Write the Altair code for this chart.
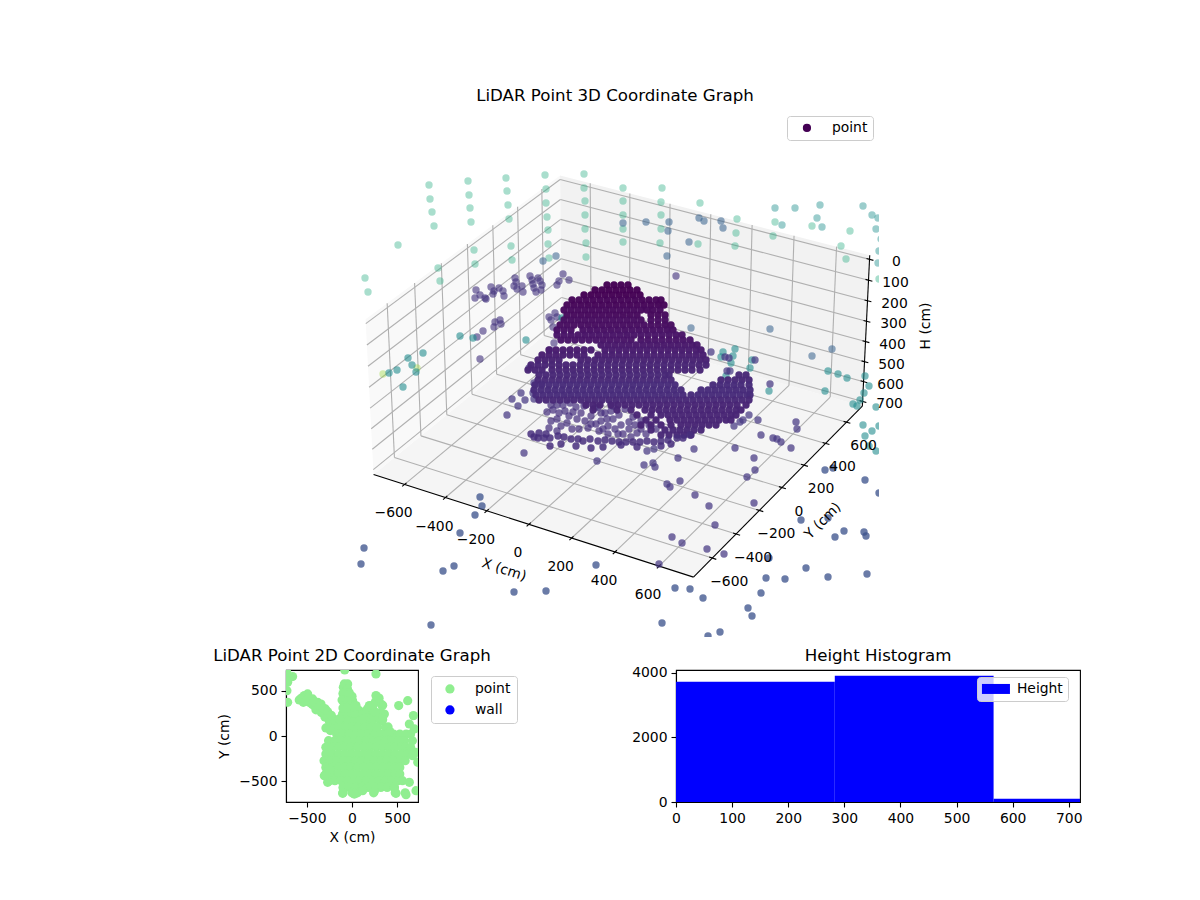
import altair as alt
import numpy as np
import pandas as pd

FONT = 'DejaVu Sans'

# ---- 3D panel: points as they sit in the projected view (page pixels) ----
green_back = [(428,184),(467,180),(505,177),(544,174),(583,173),(429,198),(468,194),(506,190),(545,188),(583,187),
    (431,211),(469,207),(507,204),(545,202),(584,200),(433,225),(470,221),(508,218),(546,216),(584,214),(547,229),(584,228),
    (547,243),(585,242),(548,257),(585,256),(397,244),(473,249),(510,245),(511,259),(474,263),(437,267),(439,280),(364,277),(367,291),
    (622,187),(661,187),(660,201),(660,214),(660,228),(659,242),(622,200),(622,214),(622,228),(622,241),(699,202),(697,243),
    (736,218),(735,232),(734,245),(774,221),(772,235),(811,225),(849,230),(840,245),(845,258),(878,278)]
teal_back = [(774,207),(794,207),(819,204),(816,217),(821,226),(781,224),(862,205),(871,214),(877,217),(875,228),(877,262),(880,238),(878,250)]
blue_back = [(622,222),(645,221),(668,221),(667,230),(698,217),(703,220),(720,220),(722,227),(688,241),(666,255),(555,255),(542,260),(690,327),(769,328),(811,355),(831,348)]
purple_back = [(675,275),(475,289),(474,297),(479,294),(484,297),(485,298),(490,286),(498,287),(492,293),(493,290),(502,290),(503,295),
    (514,277),(515,281),(513,285),(516,288),(521,285),(522,291),(529,275),(531,279),(532,283),(533,287),(535,291),(537,277),(539,280),(541,284),(540,289),
    (562,273),(558,280),(556,284),(568,279),(499,319),(494,321),(500,323),(493,326),(482,330),(476,336),(548,316),(554,312),(550,319),(556,316),(552,326),(553,342),(549,349),(479,358)]
teal_mid = [(472,337),(459,335),(525,339),(422,352),(407,357),(388,372),(396,369),(411,364),(415,371),(402,386),(561,317),
    (722,351),(734,348),(720,356),(732,355),(730,362),(725,375),(751,359),(749,367),(768,390),(824,390),(827,370),(837,373),(846,377),
    (864,375),(868,385),(863,392),(859,399),(852,403),(856,405),(875,406),(862,424),(871,430),(864,435),(878,425),(868,445),(875,450)]
yellow_few = [(382,373),(416,367)]
purple_mid = [(710,351),(724,356),(728,357),(726,370),(729,370),(754,359),(769,383),(795,421),(796,428),(757,419),(748,414),(742,419),(739,421),(733,425),
    (760,434),(772,437),(776,438),(780,441),(790,447),(734,447),(753,457),(754,469),(746,476),(693,448),(677,457),(652,462),(654,466),(643,464),(666,483),(669,486),(679,480),
    (694,494),(708,505),(714,524),(753,502),(671,536),(681,542),(706,548),(723,553),(658,563),(506,414),(523,452),(596,460),(646,450),(653,448),(511,398),(520,392),(524,399),(532,392),(533,398),(517,405),(528,367),(533,382),(540,383)]
blue_front = [(824,469),(832,467),(864,479),(878,492),(800,519),(827,517),(843,530),(834,536),(863,531),(865,535),(768,557),(805,567),(827,576),(866,573),(765,577),(784,578),(760,592),
    (747,607),(751,615),(719,631),(707,635),(661,622),(674,587),(689,588),(702,597),(479,496),(481,505),(474,514),(459,532),(363,547),(360,563),(453,565),(442,570),(513,591),(545,590),(595,564),(430,624)]

# dense cloud, read row by row: (row y, colour value, x positions)
dense_rows = [
    (284,0.00,[606,613,620,627]),
    (289,0.00,[594,601,608,615,622,629,636]),
    (294,0.00,[583,590,597,604,611,618,625,632,639]),
    (299,0.01,[571,578,585,592,599,606,613,620,627,634,641,648,655,660]),
    (304,0.01,[566,573,580,587,594,601,608,615,622,629,636,643,650,657,663]),
    (309,0.02,[563,570,577,584,591,598,605,612,619,626,633,640,646,652,659]),
    (314,0.02,[566,573,580,587,594,601,608,615,622,629,636,650,657,664]),
    (319,0.03,[563,570,577,584,591,598,605,612,619,626,633,640,650,657,664]),
    (324,0.03,[559,566,573,580,587,594,601,608,615,622,629,636,643,650,657,664,670]),
    (329,0.04,[556,563,570,582,589,596,603,610,617,624,631,638,645,652,659,666,672]),
    (334,0.05,[556,563,570,577,584,591,598,605,612,619,626,633,640,647,654,661,668,675,681]),
    (339,0.05,[560,567,574,581,588,595,602,609,616,623,630,640,647,654,661,668,675,682,689]),
    (344,0.06,[600,607,614,621,628,635,642,649,656,663,670,677,684,691,696]),
    (349,0.07,[548,555,562,569,576,583,590,604,611,618,625,632,639,646,653,660,667,674,681,688,695,700]),
    (354,0.08,[541,548,555,562,569,576,583,597,604,611,618,625,632,639,646,653,660,667,674,681,688,695,702]),
    (359,0.09,[537,544,551,558,580,587,594,601,608,615,622,629,636,643,650,657,664,671,678,685,692,699,705]),
    (364,0.10,[530,537,544,551,558,565,572,579,586,593,600,607,614,621,628,635,642,649,656,663,670,677,684,691,698,705]),
    (369,0.10,[527,534,541,551,558,565,572,579,586,593,600,607,614,621,628,635,642,649,656,663,670,677,684,691,699]),
    (374,0.11,[538,545,552,559,566,573,580,587,594,601,608,615,622,629,636,643,650,657,664,668,738,745]),
    (379,0.11,[537,544,551,558,565,572,579,586,593,600,607,614,621,628,635,642,649,656,663,670,720,727,734,741,748]),
    (384,0.12,[534,541,548,555,562,569,576,583,590,597,604,611,618,625,632,639,646,653,660,667,674,712,719,726,733,740,748]),
    (389,0.12,[533,540,547,554,561,568,575,582,589,596,603,610,617,624,631,638,645,652,659,666,673,680,700,707,714,721,728,735,742,749]),
    (394,0.12,[535,542,549,556,563,570,577,584,591,598,605,612,619,626,633,640,647,654,661,668,675,682,690,697,704,711,718,725,732,739,746,749]),
    (399,0.11,[538,545,552,559,566,573,580,587,594,601,608,615,622,629,636,643,650,657,664,671,678,685,692,699,706,713,720,727,734,741,748]),
    (404,0.10,[585,592,599,610,617,624,631,638,645,652,659,666,673,680,687,694,701,708,715,722,729,736,745]),
    (409,0.10,[592,616,630,644,651,658,665,672,679,686,693,700,707,714,721,728,735,740]),
    (414,0.10,[636,650,660,667,674,681,688,695,702,709,716,723,730,735]),
    (419,0.10,[645,655,669,676,683,690,697,704,711,718,725,730]),
    (424,0.10,[640,650,660,670,680,687,694,701,708,715]),
    (429,0.11,[650,664,672,679,686,693,700]),
    (434,0.11,[660,668,676,683,690]),
]
lattice = [(546,411),(552,409),(550,420),(556,418),(548,427),(564,410),(568,415),(576,418),(566,422),(578,428),(587,427),(598,430),(607,425),(590,415),(600,412),
    (575,406),(562,404),(550,404),(600,420),(612,418),(620,424),(618,414),(628,428),(636,432),(622,433),(607,433),(595,423),(584,420),(572,411),(610,410),(624,408),(640,420),(632,416),
    (556,404),(569,402),(583,405),(597,406),(604,412),(612,405),(580,412),(558,412),(590,423),(602,428),(614,428),(628,421),(640,428),(645,433),(655,428),(560,425),(571,428),(606,418),(594,407),(634,424),(648,424),(556,430),(617,433),(630,436)]
band = [(530,433),(533,436),(537,437),(543,437),(549,437),(557,435),(563,436),(570,438),(577,438),(582,440),(589,438),(597,440),(604,439),(611,440),(618,441),(625,441),(632,441),
    (639,441),(646,440),(653,441),(660,440),(667,439),(549,445),(560,443),(575,445),(590,447),(538,432),(545,433),(602,446),(620,444),(636,446),(660,445),(670,443),(676,437),(682,437),(689,434)]

# ---- 2D panel: (Y row in cm, X values in cm) ----
plan_rows = [
    (244,[-100,-30,40,110,180,250,320]),
    (170,[-120,-50,20,90,160,230,320]),
    (96,[-140,-70,0,70,140,210,280,370]),
    (22,[-170,-100,-30,40,110,180,250,320,390,460,530,600,650]),
    (-52,[-260,-190,-120,-50,20,90,160,230,300,370,440,510,580,670]),
    (-126,[-290,-220,-150,-80,-10,60,130,200,270,340,410,480,550,600,650]),
    (-200,[-290,-220,-150,-80,-10,60,130,200,270,340,410,480,550,620]),
    (-274,[-310,-240,-170,-100,-30,40,110,180,250,320,390,460,530,590]),
    (-348,[-290,-220,-150,-80,-10,60,130,200,270,340,410,480,530]),
    (-422,[-290,-220,-150,-80,-10,60,130,200,270,340,410,480,530]),
    (-496,[-250,-190,-120,-50,20,90,160,230,300,370,440,510,560]),
    (-570,[-100,-30,40,110,180,250,320,390,470]),
    (-630,[-100,0,60,240,480,590]),
]
plan_extra = [(-585,400),(-529,448),(-492,466),(-540,374),(-474,374),(-418,337),(-381,374),(-363,300),(-318,263),(-270,244),(-233,189),(-196,141),(-159,89),(-289,89),
    (-437,411),(-400,318),(-344,355),(-296,300),(-252,226),(-207,189),(-170,133),(-500,420),(-455,370),
    (-560,420),(-510,395),(-440,350),(-400,290),(-340,260),(-300,210),(-250,160),(-220,110),(-190,60),(-240,60),(-420,380),(-360,330),(-320,310),(-270,270),(-230,230),(-190,170),(-150,120),
    (-696,651),(-725,707),(-659,659),(-714,596),(-722,503),(-714,374),
    (-81,733),(266,688),(-85,577),(-48,577),(-96,540),(-67,503),(-67,429),(-85,355),(-30,429),(7,392),(44,337),(81,281),(-104,244),(192,337),(266,448),(322,355),(340,340),(322,263),(359,244),(518,337),(618,392),(681,226),(636,133),(692,78),
    (-50,520),(-30,480),(0,440),(-100,470),(-110,400),(-50,390),(-100,310),(-30,330),(50,300),(-140,190),(30,250),(120,240),(170,300),(230,300),(270,260),(300,200),(260,380),(300,420),(230,340),(120,190),(340,180),(400,100),(420,50),
    (710,-181),(729,-292),(673,-218),(636,-514),(710,-607),(599,-651),(488,-636),(470,-570),(248,-614),(118,-607),(26,-644),(-104,-636),(-270,-514),(-307,-440),(-252,-366),(-60,310),(20,320)]

# ---- histogram ----
bin_left = [0, 283, 566]
bin_right = [283, 566, 849]
bin_count = [3730, 3916, 102]
bin_base = [0, 0, 0]

x_ticks3d = [-600, -400, -200, 0, 200, 400, 600]
y_ticks3d = [-600, -400, -200, 0, 200, 400, 600]
h_ticks3d = [0, 100, 200, 300, 400, 500, 600, 700]
X_MIN, X_MAX, Y_MIN, Y_MAX = -754, 754, -754, 754
H_TOP, H_BOT = -20, 724

BX, BZ = 1.27, 0.62
U = np.array([0.866, 0.5, 0.0])
V = np.array([-0.25, 0.433, 0.866])
N = np.array([0.433, -0.75, 0.5])


def project(x, y, h):
    # same camera as a 30/-60 3D view, scaled to page pixels
    p = np.array([x / 754 * BX / 2, y / 754 * BX / 2, (352 - h) / 744 * BZ])
    w = 10 - N.dot(p)
    return 621.8 + 2860 * U.dot(p) / w, 363.3 - 2850 * V.dot(p) / w


def seg(a, b, kind):
    (x0, y0), (x1, y1) = project(*a), project(*b)
    return {'x': x0, 'y': y0, 'x2': x1, 'y2': y1, 'kind': kind}


# panes
pane_rows = []
for name, corners, col in [
    ('floor', [(X_MIN,Y_MIN,H_BOT),(X_MAX,Y_MIN,H_BOT),(X_MAX,Y_MAX,H_BOT),(X_MIN,Y_MAX,H_BOT)], '#f5f5f5'),
    ('left', [(X_MIN,Y_MIN,H_BOT),(X_MIN,Y_MAX,H_BOT),(X_MIN,Y_MAX,H_TOP),(X_MIN,Y_MIN,H_TOP)], '#f9f9f9'),
    ('back', [(X_MIN,Y_MAX,H_BOT),(X_MAX,Y_MAX,H_BOT),(X_MAX,Y_MAX,H_TOP),(X_MIN,Y_MAX,H_TOP)], '#f2f2f2'),
]:
    for i, c in enumerate(corners + corners[:1]):
        px, py = project(*c)
        pane_rows.append({'x': px, 'y': py, 'pane': name, 'i': i, 'col': col})
panes_df = pd.DataFrame(pane_rows)

# grid, axis lines, ticks
segs = []
for t in x_ticks3d:
    segs.append(seg((t,Y_MIN,H_BOT), (t,Y_MAX,H_BOT), 'grid'))
    segs.append(seg((t,Y_MAX,H_BOT), (t,Y_MAX,H_TOP), 'grid'))
    segs.append(seg((t,Y_MIN-18,H_BOT), (t,Y_MIN+14,H_BOT), 'axis'))
for t in y_ticks3d:
    segs.append(seg((X_MIN,t,H_BOT), (X_MAX,t,H_BOT), 'grid'))
    segs.append(seg((X_MIN,t,H_BOT), (X_MIN,t,H_TOP), 'grid'))
    segs.append(seg((X_MAX+18,t,H_BOT), (X_MAX-14,t,H_BOT), 'axis'))
for t in h_ticks3d:
    segs.append(seg((X_MIN,Y_MIN,t), (X_MIN,Y_MAX,t), 'grid'))
    segs.append(seg((X_MIN,Y_MAX,t), (X_MAX,Y_MAX,t), 'grid'))
    segs.append(seg((X_MAX+18,Y_MAX,t), (X_MAX-14,Y_MAX,t), 'axis'))
segs.append(seg((X_MIN,Y_MIN,H_BOT), (X_MAX,Y_MIN,H_BOT), 'axis'))
segs.append(seg((X_MAX,Y_MIN,H_BOT), (X_MAX,Y_MAX,H_BOT), 'axis'))
segs.append(seg((X_MAX,Y_MAX,H_BOT), (X_MAX,Y_MAX,H_TOP), 'axis'))
segs_df = pd.DataFrame(segs)

# tick labels and titles
text_rows = []
def fmt(v):
    return str(v).replace('-', '\u2212')
for t in x_ticks3d:
    px, py = project(t, Y_MIN, H_BOT)
    text_rows.append({'x': px - 11, 'y': py + 29, 'text': fmt(t), 'angle': 0})
for t in y_ticks3d:
    px, py = project(X_MAX, t, H_BOT)
    text_rows.append({'x': px + 17, 'y': py + 24, 'text': fmt(t), 'angle': 0})
for t in h_ticks3d:
    px, py = project(X_MAX, Y_MAX, t)
    text_rows.append({'x': px + 27, 'y': py + 3, 'text': fmt(t), 'angle': 0})
text_rows.append({'x': 503, 'y': 569, 'text': 'X (cm)', 'angle': 18})
text_rows.append({'x': 822, 'y': 520, 'text': 'Y (cm)', 'angle': 315})
text_rows.append({'x': 925, 'y': 325, 'text': 'H (cm)', 'angle': 270})
text_df = pd.DataFrame(text_rows)
title_df = pd.DataFrame({'x': [614], 'y': [95], 'text': ['LiDAR Point 3D Coordinate Graph']})

# cloud table
cloud = []
def add(points, depth, alpha):
    for px, py in points:
        cloud.append({'x': px, 'y': py, 'depth': depth, 'alpha': alpha, 'series': 'point'})
add(green_back, 0.62, 0.4)
add(yellow_few, 0.85, 0.4)
add(teal_back, 0.50, 0.45)
add(blue_back, 0.30, 0.55)
add(purple_back, 0.15, 0.62)
add(teal_mid, 0.48, 0.6)
add(blue_front, 0.25, 0.76)
add(purple_mid, 0.16, 0.72)
add(lattice, 0.14, 0.72)
for ry, d, xs in dense_rows:
    add([(v, ry) for v in xs], d, 0.97)
add(band, 0.13, 0.85)
cloud_df = pd.DataFrame(cloud)

sx = alt.Scale(domain=[8, 878], range=[0, 870], nice=False, zero=False)
sy = alt.Scale(domain=[8, 636], range=[0, 628], nice=False, zero=False)
X3 = alt.X('x:Q', scale=sx, axis=None)
Y3 = alt.Y('y:Q', scale=sy, axis=None)

#페인
panes = alt.Chart(panes_df).mark_line(strokeWidth=0, interpolate='linear', clip=True).encode(
    x=X3, y=Y3, order='i:Q', detail='pane:N', fill=alt.Fill('col:N', scale=None))

grid = alt.Chart(segs_df[segs_df.kind == 'grid']).mark_rule(color='#b0b0b0', strokeWidth=1.1).encode(
    x=X3, y=Y3, x2='x2:Q', y2='y2:Q')
axes3d = alt.Chart(segs_df[segs_df.kind == 'axis']).mark_rule(color='black', strokeWidth=1.1).encode(
    x=X3, y=Y3, x2='x2:Q', y2='y2:Q')

points3d = alt.Chart(cloud_df).mark_point(filled=True, size=54, clip=True, strokeWidth=0).encode(
    x=X3, y=Y3,
    color=alt.Color('depth:Q', scale=alt.Scale(scheme='viridis', domain=[0, 1]), legend=None),
    opacity=alt.Opacity('alpha:Q', scale=None),
    shape=alt.Shape('series:N', scale=alt.Scale(domain=['point'], range=['circle']), legend=alt.Legend(
        title=None, orient='none', legendX=778, legendY=107, fillColor='rgba(255,255,255,0.8)',
        strokeColor='#cccccc', cornerRadius=3, padding=5, symbolSize=45, symbolFillColor='#440154',
        symbolStrokeColor='#440154', symbolOpacity=1, symbolOffset=8, labelOffset=18,
        labelFont=FONT, labelFontSize=13.9, labelColor='black')),
    order=alt.Order('index:Q'),
).transform_window(index='row_number()')

labels3d = alt.Chart(text_df).mark_text(font=FONT, fontSize=13.9, color='black', align='center', baseline='middle').encode(
    x=X3, y=Y3, text='text:N', angle=alt.Angle('angle:Q', scale=None))
title3d = alt.Chart(title_df).mark_text(font=FONT, fontSize=16.67, color='black', align='center', baseline='middle').encode(
    x=X3, y=Y3, text='text:N')

top = alt.layer(panes, grid, axes3d, points3d, labels3d, title3d).resolve_scale(
    color='independent', shape='independent').properties(
    width=870, height=628, view=alt.ViewBackground(stroke='transparent'))

# 2D
plan = []
for ry, xs in plan_rows:
    for v in xs:
        plan.append({'X': v, 'Y': ry, 'series': 'point'})
for v, ry in plan_extra:
    plan.append({'X': v, 'Y': ry, 'series': 'point'})
plan_df = pd.DataFrame(plan)

frame = alt.ViewBackground(stroke='black', strokeWidth=1.1)
left = alt.Chart(plan_df).mark_circle(size=85, opacity=1, clip=True).encode(
    x=alt.X('X:Q', title='X (cm)', scale=alt.Scale(domain=[-732, 732], nice=False),
            axis=alt.Axis(values=[-500, 0, 500], titlePadding=6)),
    y=alt.Y('Y:Q', title='Y (cm)', scale=alt.Scale(domain=[-732, 732], nice=False),
            axis=alt.Axis(values=[-500, 0, 500], titlePadding=7)),
    color=alt.Color('series:N', scale=alt.Scale(domain=['point', 'wall'], range=['lightgreen', 'blue']),
                    legend=alt.Legend(title=None, orient='none', legendX=145, legendY=6, symbolType='circle',
                                      fillColor='rgba(255,255,255,0.8)', strokeColor='#cccccc', cornerRadius=3,
                                      padding=6, symbolSize=85, symbolOpacity=1, symbolOffset=6, labelOffset=18,
                                      rowPadding=6, labelFont=FONT, labelFontSize=13.9, labelColor='black')),
).properties(width=132, height=132, view=frame,
             title=alt.TitleParams('LiDAR Point 2D Coordinate Graph', font=FONT, fontSize=16.67, fontWeight='normal', offset=5))

# histogram
hist_df = pd.DataFrame({'left': bin_left, 'right': bin_right, 'base': bin_base, 'count': bin_count, 'series': ['Height'] * 3})
right = alt.Chart(hist_df).mark_rect(clip=True, opacity=1).encode(
    x=alt.X('left:Q', title=None, scale=alt.Scale(domain=[0, 720], nice=False),
            axis=alt.Axis(values=[0, 100, 200, 300, 400, 500, 600, 700])),
    x2='right:Q',
    y=alt.Y('base:Q', title=None, scale=alt.Scale(domain=[0, 4093], nice=False),
            axis=alt.Axis(values=[0, 2000, 4000], format='d')),
    y2='count:Q',
    color=alt.Color('series:N', scale=alt.Scale(domain=['Height'], range=['blue']),
                    legend=alt.Legend(title=None, orient='none', legendX=301, legendY=7,
                                      symbolType='M-2.8,-1H2.8V1H-2.8Z', symbolSize=100,
                                      fillColor='rgba(255,255,255,0.8)', strokeColor='#cccccc', cornerRadius=3,
                                      padding=5, symbolOffset=7, labelOffset=14,
                                      labelFont=FONT, labelFontSize=13.9, labelColor='black')),
).properties(width=404, height=132, view=frame,
             title=alt.TitleParams('Height Histogram', font=FONT, fontSize=16.67, fontWeight='normal', offset=1))

spacer = alt.Chart(pd.DataFrame({'a': [0]})).mark_point(opacity=0).encode(
    x=alt.X('a:Q', axis=None), y=alt.Y('a:Q', axis=None)
).properties(width=19, height=132, view=alt.ViewBackground(stroke='transparent'))

bottom = alt.hconcat(spacer, left, right, spacing=258, bounds='flush').resolve_scale(color='independent')
chart = alt.vconcat(top, bottom, spacing=33, bounds='flush').resolve_scale(color='independent', shape='independent').properties(
    padding=0, background='white'
).configure_axis(
    domainColor='black', domainWidth=1.1, tickColor='black', tickWidth=1.1, tickSize=5, grid=False,
    labelFont=FONT, labelFontSize=13.9, labelColor='black', labelPadding=4,
    titleFont=FONT, titleFontSize=13.9, titleFontWeight='normal', titleColor='black', labelFlush=False
)
chart.save("out.html", embed_options={"renderer": "svg", "actions": False})
